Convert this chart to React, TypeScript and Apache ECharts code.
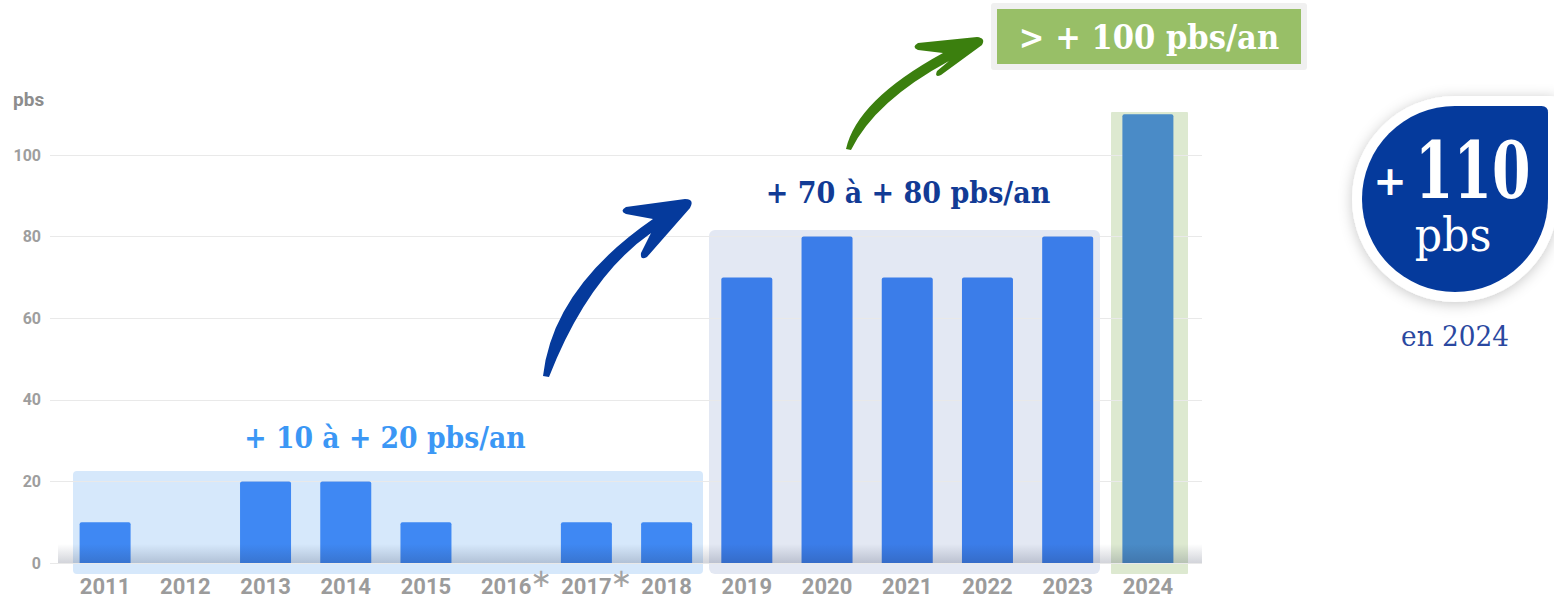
import React, { useEffect, useRef } from "react";
import * as echarts from "echarts";

const years = ["2011","2012","2013","2014","2015","2016","2017","2018","2019","2020","2021","2022","2023","2024"];
const values = [10, 0, 20, 20, 10, 0, 10, 10, 70, 80, 70, 70, 80, 110];
const starredYears = ["2016", "2017"];
const footMark = "∗";
const yTickMax = 100;
const yTickStep = 20;
const unitLabel = "pbs";
const band1Label = "+ 10 à + 20 pbs/an";
const band2Label = "+ 70 à + 80 pbs/an";
const band3Label = "> + 100 pbs/an";
const badgeSign = "+";
const badgeValue = "110";
const badgeUnit = "pbs";
const badgeYear = "en 2024";

const BADGE_D = "M 100 0 A 100 100 0 1 1 0 -100 L 93 -100 Q 100 -100 100 -93 Z";
const BLUE_ARROW_D =
  "M 543 376 Q 553 288 653 219 L 626 214 Q 619 211 626 207 L 685 199 Q 695 199 690 208 L 647 257 Q 640 261 641 253 L 651 233 Q 588 277 549 377 Z";
const GREEN_ARROW_D =
  "M 846 149 Q 857 100 943 53 L 918 50 Q 911 47 918 43 L 977 37 Q 986 38 982 45 L 941 75 Q 934 78 937 71 L 949 61 Q 875 101 851 150 Z";

let registered = false;
function registerShapes() {
  if (registered) return;
  registered = true;
  echarts.graphic.registerShape("badgeShape", echarts.graphic.extendPath(BADGE_D, {}));
  echarts.graphic.registerShape("blueArrow", echarts.graphic.extendPath(BLUE_ARROW_D, {}));
  echarts.graphic.registerShape("greenArrow", echarts.graphic.extendPath(GREEN_ARROW_D, {}));
}

function txt(x: number, y: number, text: string, font: any, extra: any = {}) {
  return {
    type: "text",
    x,
    y,
    z: 20,
    ...extra,
    style: {
      text,
      align: font.align || "center",
      textAlign: font.align || "center",
      verticalAlign: "middle",
      textVerticalAlign: "middle",
      fill: font.fill,
      fontSize: font.size,
      fontWeight: font.weight || "normal",
      fontFamily: font.family,
    },
  };
}

export default function App() {
  const ref = useRef<HTMLDivElement>(null);
  useEffect(() => {
    registerShapes();
    const chart = echarts.init(ref.current!, undefined, { renderer: "svg" });
    const barColor = (i: number) => (i < 8 ? "#3f88f3" : i < 13 ? "#3b7de9" : "#4a8bc7");
    const option: any = {
      animation: false,
      grid: [
        { left: 65, right: 366, top: 73.4, bottom: 34, outerBoundsMode: "none", containLabel: false },
        { left: 50, right: 352, top: 155, bottom: 34, outerBoundsMode: "none", containLabel: false },
      ],
      xAxis: [
        {
          type: "category",
          gridIndex: 0,
          data: years,
          axisLine: { show: false },
          axisTick: { show: false },
          axisLabel: {
            interval: 0,
            margin: 13,
            color: "#9b9b9b",
            fontFamily: "Roboto",
            fontWeight: "bold",
            fontSize: 22,
            lineHeight: 20,
            hideOverlap: false,
          },
        },
        {
          // footnote marks next to some year labels
          type: "category",
          gridIndex: 0,
          position: "bottom",
          data: years,
          axisLine: { show: false },
          axisTick: { show: false },
          splitLine: { show: false },
          axisLabel: {
            interval: 0,
            margin: 2,
            hideOverlap: false,
            formatter: (v: string) => (starredYears.includes(v) ? `{p|}{a|${footMark}}` : ""),
            rich: {
              p: { width: 70, lineHeight: 26 },
              a: {
                fontSize: 26,
                fontWeight: "normal",
                fontFamily: "DejaVu Sans",
                color: "#a3a3a3",
                lineHeight: 26,
                width: 18,
                align: "center",
              },
            },
          },
        },
        { type: "value", gridIndex: 1, show: false, min: 0, max: 1 },
      ],
      yAxis: [
        { type: "value", gridIndex: 0, min: 0, max: 120, show: false },
        {
          type: "value",
          gridIndex: 1,
          min: 0,
          max: yTickMax,
          interval: yTickStep,
          axisLine: { show: false },
          axisTick: { show: false },
          axisLabel: { margin: 9, color: "#9e9e9e", fontFamily: "Roboto", fontWeight: "bold", fontSize: 16 },
          splitLine: { lineStyle: { color: "#e9e9e9", width: 1 } },
        },
      ],
      series: [
        {
          type: "bar",
          xAxisIndex: 0,
          yAxisIndex: 0,
          barWidth: 51,
          z: 5,
          data: values.map((v, i) => ({ value: v, itemStyle: { color: barColor(i), borderRadius: [2, 2, 0, 0] } })),
        },
      ],
      graphic: [
        // highlight bands
        { type: "rect", z: -10, shape: { x: 73, y: 471, width: 630, height: 103, r: 4 }, style: { fill: "#d6e8fb" } },
        { type: "rect", z: -10, shape: { x: 709, y: 230, width: 391, height: 344, r: 6 }, style: { fill: "#e3e8f3" } },
        { type: "rect", z: -10, shape: { x: 1111, y: 112, width: 77, height: 462, r: 1 }, style: { fill: "#dde9d0" } },
        // bottom shadow band
        {
          type: "rect",
          z: 10,
          shape: { x: 58, y: 544, width: 1144, height: 19 },
          style: {
            fill: {
              type: "linear", x: 0, y: 0, x2: 0, y2: 1,
              colorStops: [
                { offset: 0, color: "rgba(30,40,70,0)" },
                { offset: 1, color: "rgba(30,40,70,0.2)" },
              ],
            },
          },
        },
        // unit label
        txt(13, 99, unitLabel, { size: 19, weight: "bold", family: "Roboto", fill: "#8d8d8d", align: "left" }),
        // band labels
        txt(385, 437, band1Label, { size: 30, weight: "bold", family: "DejaVu Serif", fill: "#3b97f5" }, { scaleX: 0.89 }),
        txt(908, 192, band2Label, { size: 30, weight: "bold", family: "DejaVu Serif", fill: "#123b95" }, { scaleX: 0.9 }),
        // arrows
        { type: "blueArrow", z: 20, x: 0, y: 0, style: { fill: "#053a9c" } },
        { type: "greenArrow", z: 20, x: 0, y: 0, style: { fill: "#3b7f0e" } },
        // green box
        { type: "rect", z: 15, shape: { x: 991, y: 3, width: 316, height: 67, r: 3 }, style: { fill: "#f0f0f0" } },
        { type: "rect", z: 16, shape: { x: 997, y: 9, width: 304, height: 55 }, style: { fill: "#98bf67" } },
        txt(1149, 37, band3Label, { size: 34, weight: "bold", family: "DejaVu Serif", fill: "#ffffff" }, { scaleX: 0.9 }),
        // badge
        {
          type: "badgeShape", z: 15, x: 1455, y: 199, scaleX: 1.03, scaleY: 1.03,
          style: { fill: "#ffffff", shadowBlur: 14, shadowColor: "rgba(0,0,0,0.22)", shadowOffsetY: 2 },
        },
        { type: "badgeShape", z: 16, x: 1455, y: 199, scaleX: 0.93, scaleY: 0.93, style: { fill: "#053a9c" } },
        txt(1390, 181, badgeSign, { size: 40, weight: "bold", family: "DejaVu Sans", fill: "#ffffff" }),
        txt(1415, 170, badgeValue, { size: 78, weight: "bold", family: "DejaVu Serif", fill: "#ffffff", align: "left" }, { scaleX: 0.71 }),
        txt(1453, 235, badgeUnit, { size: 46, family: "DejaVu Serif", fill: "#ffffff" }, { scaleX: 0.93 }),
        txt(1455, 336, badgeYear, { size: 28, family: "DejaVu Serif", fill: "#2a48a0" }, { scaleX: 0.94 }),
      ],
    };
    chart.setOption(option);
    return () => chart.dispose();
  }, []);
  return <div ref={ref} style={{ position: "fixed", left: 0, top: 0, width: 1554, height: 597, background: "#fff" }} />;
}
